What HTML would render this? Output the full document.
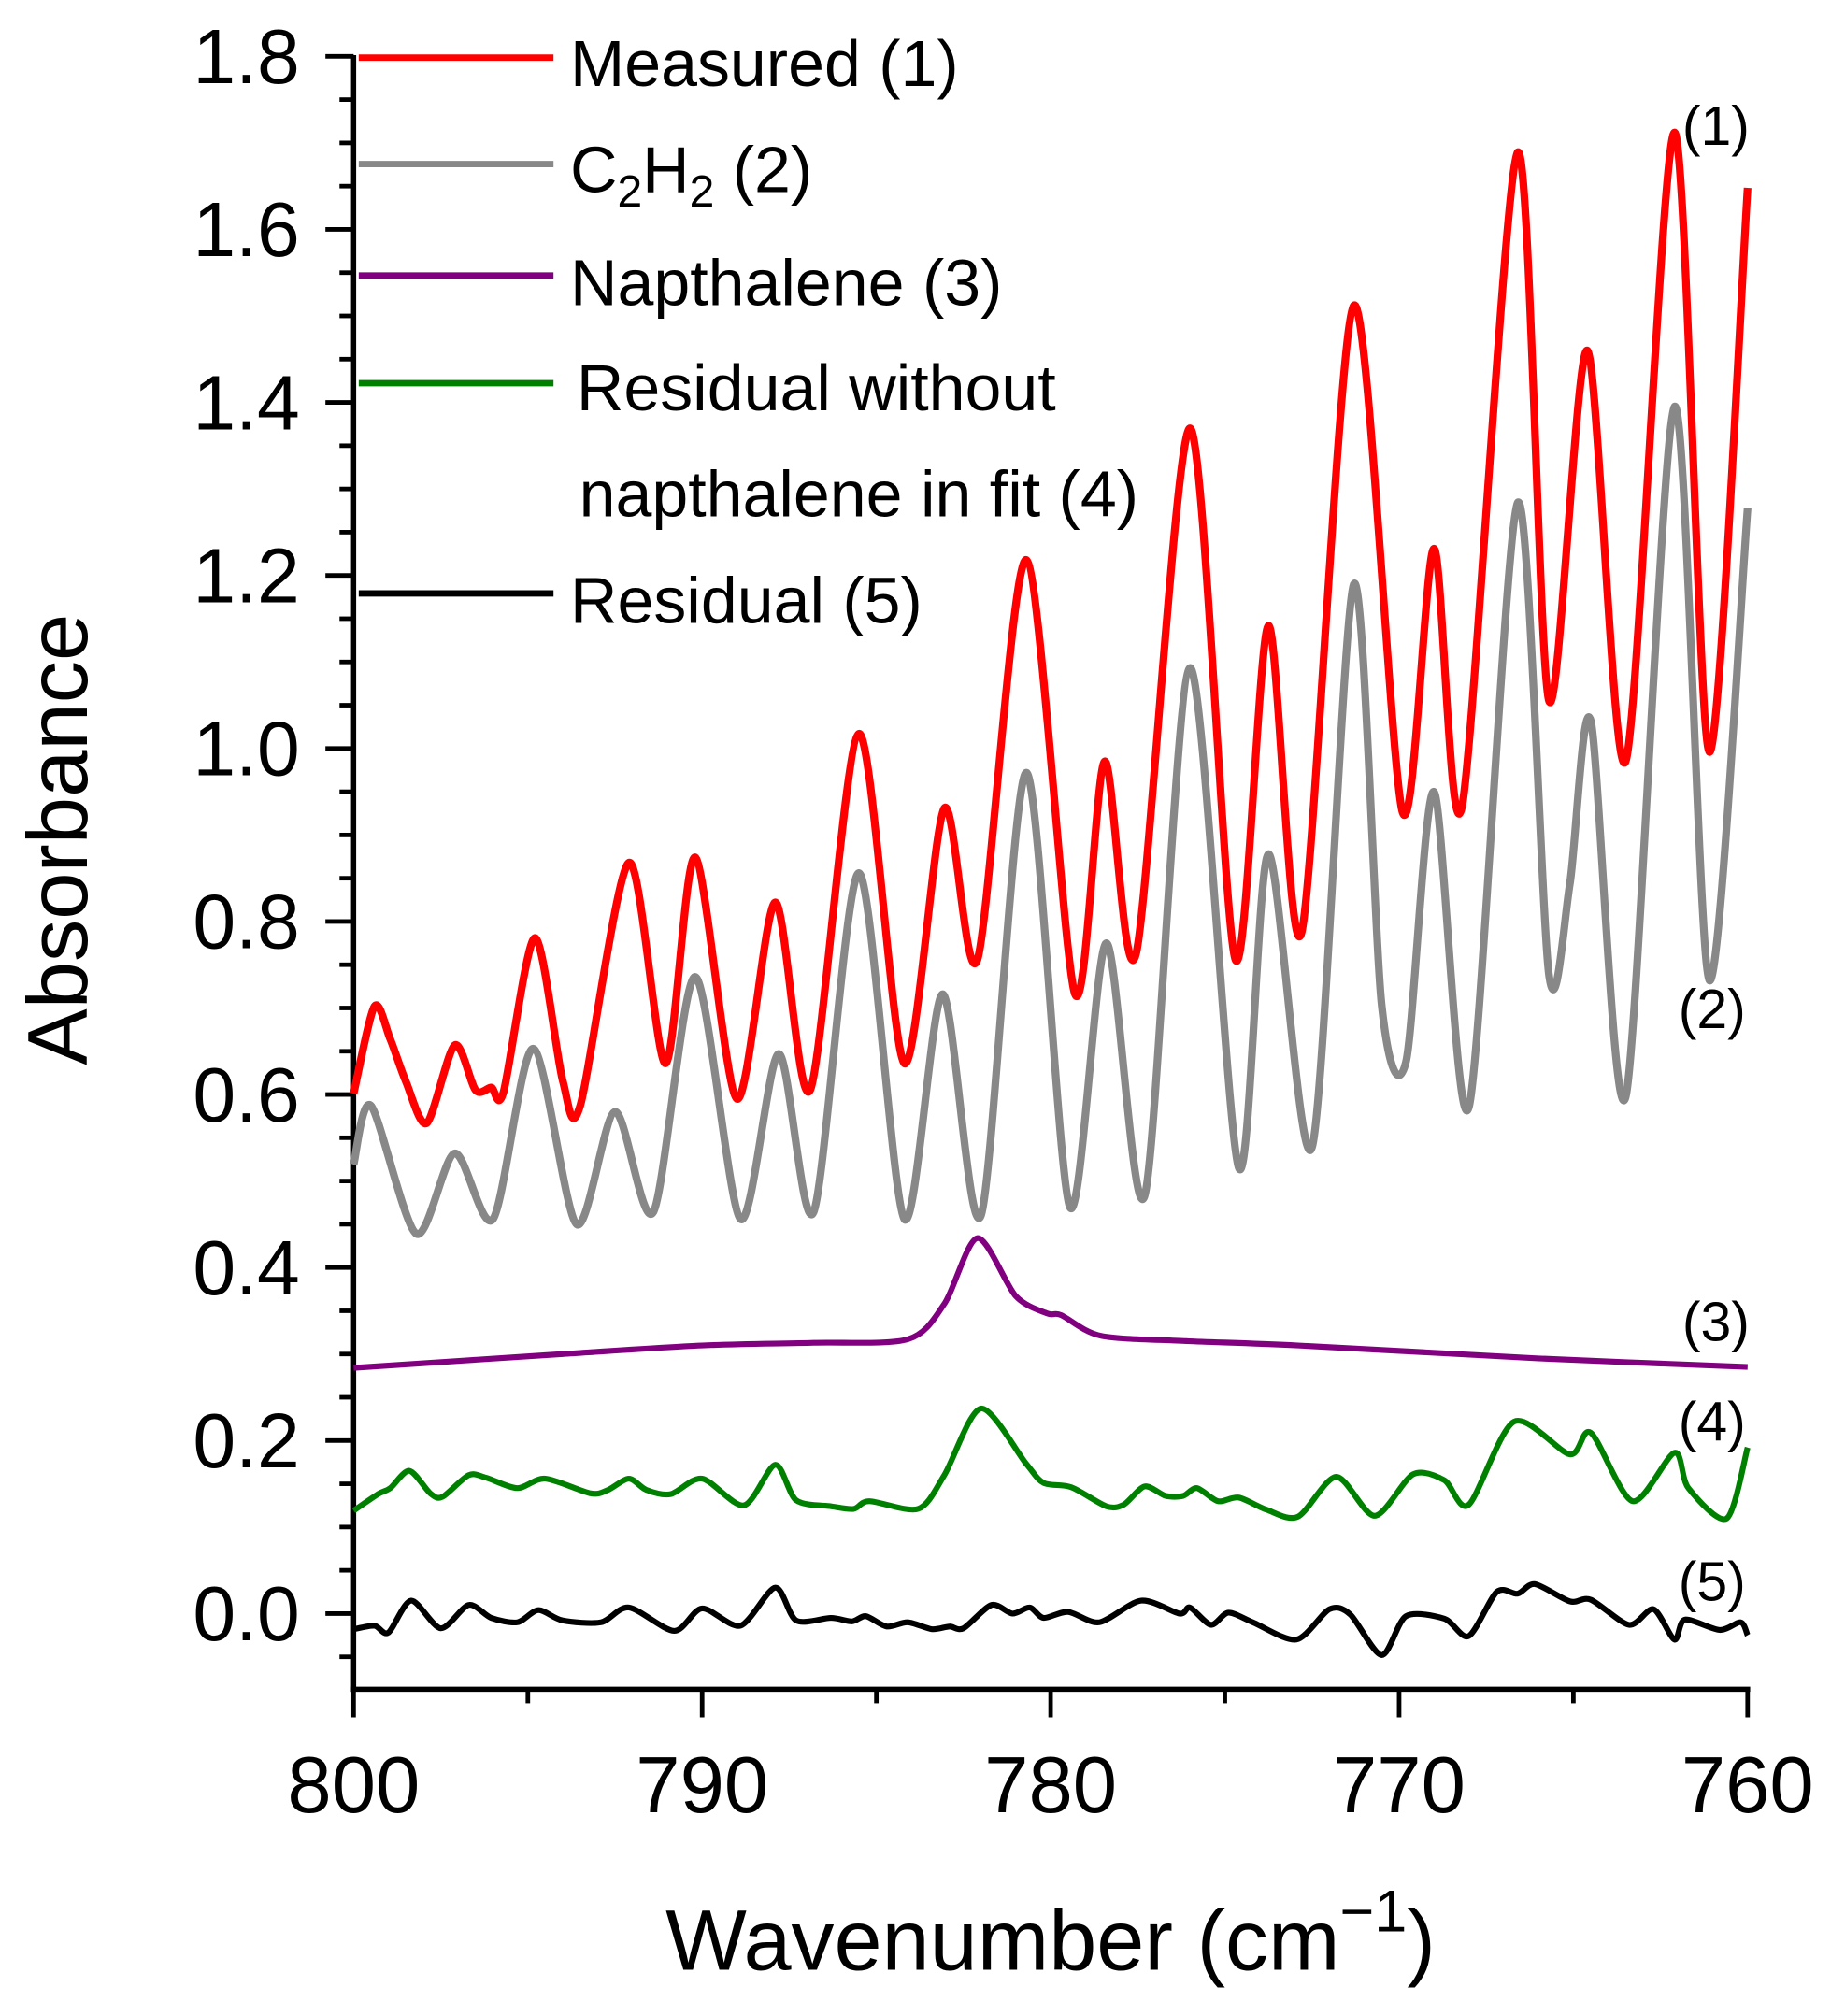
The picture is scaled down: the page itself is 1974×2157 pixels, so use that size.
<!DOCTYPE html>
<html><head><meta charset="utf-8"><style>
html,body{margin:0;padding:0;background:#fff;}
svg{display:block;}
text{font-family:"Liberation Sans",Arial,sans-serif;fill:#000;}
</style></head><body>
<svg id="chart" width="1974" height="2157" viewBox="0 0 1440 1573" preserveAspectRatio="none" xmlns="http://www.w3.org/2000/svg">
<g id="axes"></g>
<g id="series"></g>
<g id="legend"></g>
</svg>
<script>
const xTicks = [800, 790, 780, 770, 760];
const yTicks = [0.0, 0.2, 0.4, 0.6, 0.8, 1.0, 1.2, 1.4, 1.6, 1.8];
const yTickLabels = ["0.0","0.2","0.4","0.6","0.8","1.0","1.2","1.4","1.6","1.8"];

const measuredWn = [800,799.4,798.95,798.5,797.9,797.1,796.5,796.05,795.7,794.8,794.0,793.5,792.1,791.05,790.2,789.0,787.9,786.9,785.5,784.2,783.05,782.1,780.7,779.3,778.45,777.55,776.0,774.7,773.75,772.8,771.3,769.9,769.0,768.2,766.6,765.7,764.6,763.5,762.1,761.1,760.0];
const measuredVal = [0.601,0.702,0.664,0.615,0.567,0.657,0.605,0.608,0.603,0.781,0.616,0.587,0.868,0.636,0.874,0.595,0.822,0.605,1.017,0.636,0.931,0.756,1.218,0.716,0.985,0.762,1.37,0.756,1.142,0.787,1.512,0.926,1.231,0.932,1.689,1.055,1.46,0.985,1.712,0.996,1.648];

const c2h2Wn = [800,799.5,798.2,797.1,796.0,794.85,793.6,792.5,791.4,790.2,788.9,787.8,786.8,785.5,784.2,783.1,782.0,780.7,779.45,778.4,777.3,776.0,774.6,773.75,772.5,771.3,770.5,769.8,769.0,768.0,766.6,765.7,765.1,764.5,763.5,762.1,761.1,760.0];
const c2h2Val = [0.519,0.587,0.439,0.532,0.456,0.653,0.45,0.58,0.464,0.736,0.456,0.647,0.464,0.856,0.456,0.716,0.46,0.972,0.47,0.775,0.483,1.093,0.515,0.878,0.539,1.19,0.703,0.638,0.95,0.585,1.284,0.738,0.844,1.032,0.597,1.395,0.732,1.278];

const naphWn = [800,794,790,786.8,784.1,783.05,782.1,781.0,780.1,779.7,778.55,776.1,772.9,766,760.0];
const naphVal = [0.284,0.300,0.310,0.313,0.317,0.358,0.434,0.367,0.347,0.345,0.321,0.315,0.310,0.295,0.285];

const resid4Wn = [800,799.3,798.95,798.4,797.8,797.45,796.7,796.2,795.3,794.5,793.2,792.7,792.1,791.6,790.9,790.0,788.8,787.9,787.3,786.3,785.65,785.2,783.8,783.05,782.0,780.7,780.2,779.4,778.4,777.9,777.3,776.7,776.2,775.8,775.2,774.6,773.8,772.9,771.8,770.7,769.6,768.7,768.0,766.7,765.1,764.5,763.3,762.1,761.7,760.6,760.0];
const resid4Val = [0.119,0.138,0.145,0.165,0.139,0.135,0.160,0.157,0.145,0.156,0.139,0.143,0.156,0.143,0.138,0.156,0.125,0.172,0.131,0.124,0.121,0.130,0.121,0.160,0.237,0.173,0.151,0.146,0.124,0.126,0.147,0.136,0.136,0.145,0.130,0.134,0.120,0.112,0.158,0.113,0.161,0.154,0.126,0.222,0.184,0.209,0.130,0.186,0.145,0.110,0.192];

const resid5Wn = [800,799.4,799.0,798.35,797.5,796.7,796.05,795.3,794.7,794.0,792.9,792.1,790.8,790.0,788.9,787.9,787.3,786.3,785.7,785.3,784.7,784.1,783.4,782.9,782.5,781.7,781.1,780.6,780.2,779.5,778.6,777.4,776.3,776.0,775.4,774.9,774.2,772.95,772.0,771.4,770.5,769.8,768.7,768.0,767.2,766.6,766.1,765.1,764.5,763.4,762.7,762.1,761.8,760.8,760.2,760.0];
const resid5Val = [-0.018,-0.014,-0.022,0.015,-0.017,0.010,-0.005,-0.010,0.004,-0.008,-0.010,0.007,-0.020,0.006,-0.014,0.030,-0.008,-0.005,-0.009,-0.003,-0.015,-0.010,-0.018,-0.015,-0.017,0.010,0.000,0.007,-0.005,0.002,-0.010,0.015,0.000,0.007,-0.013,0.001,-0.010,-0.030,0.005,-0.001,-0.048,-0.003,-0.006,-0.026,0.025,0.023,0.034,0.014,0.016,-0.013,0.005,-0.030,-0.007,-0.019,-0.010,-0.025];

const NS = "http://www.w3.org/2000/svg";
const X0 = 276, X1 = 1364, Y0 = 1259, YPER = 675, YBOT = 1318, YTOP = 45;
function xs(w){ return X0 + (800 - w) / 40 * (X1 - X0); }
function ys(v){ return Y0 - v * YPER; }
function mk(tag, attrs, parent){
  const e = document.createElementNS(NS, tag);
  for (const k in attrs) e.setAttribute(k, attrs[k]);
  parent.appendChild(e); return e;
}
const axes = document.getElementById('axes');
let a = mk('line', {x1:X0, y1:YTOP-2, x2:X0, y2:YBOT+2, stroke:'#000','stroke-width':4}, axes);


a = mk('line', {x1:X0-2, y1:YBOT, x2:X1+2, y2:YBOT, stroke:'#000','stroke-width':4}, axes);


for (let i = -1; i <= 36; i++) {
  const v = i * 0.05; const y = ys(v);
  if (y > YBOT || y < YTOP - 1) continue;
  const major = (i % 4 === 0);
  const t = mk('line', {x1:X0 - (major ? 22 : 11), y1:y, x2:X0, y2:y, stroke:'#000','stroke-width':3.5}, axes);
  
  
}
yTicks.forEach((v, i) => {
  const t = mk('text', {x:234, y:ys(v)+21, 'text-anchor':'end', 'font-size':60}, axes);
  t.textContent = yTickLabels[i];
  
  
});
for (let w = 800; w >= 760; w -= 5) {
  const major = (w % 10 === 0);
  const t = mk('line', {x1:xs(w), y1:YBOT, x2:xs(w), y2:YBOT + (major ? 22 : 11), stroke:'#000','stroke-width':3.5}, axes);
  
  
}
xTicks.forEach(w => {
  const t = mk('text', {x:xs(w), y:1414, 'text-anchor':'middle', 'font-size':62}, axes);
  t.textContent = String(w);
  
  
});
let yt = mk('text', {x:0, y:0, 'text-anchor':'middle', 'font-size':66, transform:'translate(68,655) rotate(-90)'}, axes);
yt.textContent = 'Absorbance';


let xt = mk('text', {x:820, y:1537, 'text-anchor':'middle', 'font-size':67}, axes);
xt.innerHTML = 'Wavenumber (cm<tspan dy="-30" font-size="46">−1</tspan><tspan dy="30">)</tspan>';



function pathFrom(wn, val){
  const p = wn.map((w, i) => [xs(w), ys(val[i])]);
  let d = 'M' + p[0][0].toFixed(1) + ',' + p[0][1].toFixed(1);
  const k = 0.14;
  for (let i = 0; i < p.length - 1; i++) {
    const p0 = p[Math.max(0, i-1)], p1 = p[i], p2 = p[i+1], p3 = p[Math.min(p.length-1, i+2)];
    const c1 = [p1[0] + (p2[0]-p0[0])*k, p1[1] + (p2[1]-p0[1])*k];
    const c2 = [p2[0] - (p3[0]-p1[0])*k, p2[1] - (p3[1]-p1[1])*k];
    d += 'C' + c1[0].toFixed(1)+','+c1[1].toFixed(1)+' '+c2[0].toFixed(1)+','+c2[1].toFixed(1)+' '+p2[0].toFixed(1)+','+p2[1].toFixed(1);
  }
  return d;
}
const sg = document.getElementById('series');
const s1 = mk('path', {d:pathFrom(c2h2Wn, c2h2Val), fill:'none', stroke:'#888888','stroke-width':6,'stroke-linejoin':'round'}, sg);


const s0 = mk('path', {d:pathFrom(measuredWn, measuredVal), fill:'none', stroke:'#ff0000','stroke-width':6,'stroke-linejoin':'round'}, sg);


const s2 = mk('path', {d:pathFrom(naphWn, naphVal), fill:'none', stroke:'#800080','stroke-width':4.5}, sg);


const s3 = mk('path', {d:pathFrom(resid4Wn, resid4Val), fill:'none', stroke:'#008000','stroke-width':4.5}, sg);


const s4 = mk('path', {d:pathFrom(resid5Wn, resid5Val), fill:'none', stroke:'#000000','stroke-width':4.5}, sg);



const lg = document.getElementById('legend');
const legendLines = [[45,'#ff0000'],[128,'#888888'],[215,'#800080'],[299,'#008000'],[463,'#000000']];
legendLines.forEach(([y,c]) => {
  const l = mk('line', {x1:280, y1:y, x2:432, y2:y, stroke:c, 'stroke-width':5}, lg);
  
  
});
const legendTexts = [[445,67,'Measured (1)'],[450,320,'Residual without'],[452,403,'napthalene in fit (4)'],[445,238,'Napthalene (3)'],[445,486,'Residual (5)']];
legendTexts.forEach(([x,y,s]) => {
  const t = mk('text', {x:x, y:y, 'font-size':51}, lg);
  t.textContent = s;
  
  
});
const ct = mk('text', {x:445, y:150, 'font-size':51}, lg);
ct.innerHTML = 'C<tspan dy="11" font-size="35">2</tspan><tspan dy="-11">H</tspan><tspan dy="11" font-size="35">2</tspan><tspan dy="-11"> (2)</tspan>';


const curveLabels = [[1313,113,'(1)'],[1310,802,'(2)'],[1313,1046,'(3)'],[1310,1124,'(4)'],[1310,1249,'(5)']];
curveLabels.forEach(([x,y,s]) => {
  const t = mk('text', {x:x, y:y, 'font-size':43}, lg);
  t.textContent = s;
  
  
});
</script>
</body></html>
